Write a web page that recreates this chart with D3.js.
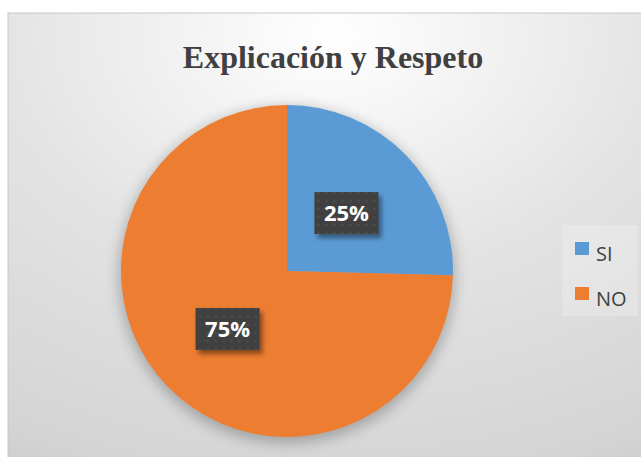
<!DOCTYPE html>
<html>
<head>
<meta charset="utf-8">
<script src="https://cdn.jsdelivr.net/npm/d3@7"></script>
<style>
  body { margin: 0; background: #fff; }
  svg { display: block; }
</style>
</head>
<body>
<div id="chart"></div>
<script>
// chart data
var title = "Explicación y Respeto";
var categories = ["SI", "NO"];
var values = [25.4, 74.6]; // percent
var colors = ["#5B9BD5", "#ED7D31"];

var w = 641, h = 457;
var frame = { x: 8, y: 13, w: 650, h: 460 };
var cx = 287, cy = 271, r = 166;

var svg = d3.select("#chart").append("svg")
    .attr("width", w)
    .attr("height", h);

var defs = svg.append("defs");

// background gradient, light at the top middle
var bg = defs.append("radialGradient")
    .attr("id", "bg")
    .attr("cx", "0.5").attr("cy", "0.05")
    .attr("r", "1.15");
bg.append("stop").attr("offset", "0").attr("stop-color", "#ffffff");
bg.append("stop").attr("offset", "0.45").attr("stop-color", "#e3e3e3");
bg.append("stop").attr("offset", "0.85").attr("stop-color", "#d4d4d4");
bg.append("stop").attr("offset", "1").attr("stop-color", "#c6c6c6");

// soft shadow around the pie
var blur = defs.append("filter").attr("id", "pieShadow")
    .attr("x", "-20%").attr("y", "-20%").attr("width", "140%").attr("height", "140%");
blur.append("feGaussianBlur").attr("stdDeviation", 7);

// shadow under the label boxes
var lblShadow = defs.append("filter").attr("id", "lblShadow")
    .attr("x", "-30%").attr("y", "-30%").attr("width", "160%").attr("height", "160%");
lblShadow.append("feGaussianBlur").attr("in", "SourceAlpha").attr("stdDeviation", 2.5).attr("result", "b");
lblShadow.append("feOffset").attr("in", "b").attr("dx", 3).attr("dy", 4).attr("result", "o");
lblShadow.append("feComponentTransfer").attr("in", "o").attr("result", "s")
  .append("feFuncA").attr("type", "linear").attr("slope", 0.45);
var merge = lblShadow.append("feMerge");
merge.append("feMergeNode").attr("in", "s");
merge.append("feMergeNode").attr("in", "SourceGraphic");

// dotted texture of the label boxes
var pat = defs.append("pattern")
    .attr("id", "dots")
    .attr("width", 8).attr("height", 8)
    .attr("patternUnits", "userSpaceOnUse");
pat.append("rect").attr("width", 8).attr("height", 8).attr("fill", "#3f3f3f");
pat.append("circle").attr("cx", 4).attr("cy", 4).attr("r", 1.6).attr("fill", "#4b4b4b");

// chart area
svg.append("rect")
    .attr("x", frame.x).attr("y", frame.y)
    .attr("width", frame.w).attr("height", frame.h)
    .attr("fill", "url(#bg)")
    .attr("stroke", "#c8c8c8")
    .attr("stroke-width", 1);

// title
svg.append("text")
    .attr("x", 333)
    .attr("y", 68)
    .attr("text-anchor", "middle")
    .attr("font-family", "'Liberation Serif', 'Times New Roman', serif")
    .attr("font-weight", "bold")
    .attr("font-size", 32)
    .attr("fill", "#404040")
    .text(title);

// pie
var data = categories.map(function(c, i) { return { cat: c, value: values[i], color: colors[i] }; });
var pie = d3.pie().sort(null).value(function(d) { return d.value; });
var arc = d3.arc().innerRadius(0).outerRadius(r);
var total = d3.sum(values);

var g = svg.append("g").attr("transform", "translate(" + cx + "," + cy + ")");

g.append("circle")
    .attr("cx", 0).attr("cy", 4).attr("r", r + 2)
    .attr("fill", "#000")
    .attr("opacity", 0.25)
    .attr("filter", "url(#pieShadow)");

var arcs = pie(data);

g.selectAll("path.slice")
    .data(arcs)
  .enter().append("path")
    .attr("class", "slice")
    .attr("d", arc)
    .attr("fill", function(d) { return d.data.color; });

// data labels
var lbl = g.selectAll("g.lbl")
    .data(arcs)
  .enter().append("g")
    .attr("class", "lbl")
    .attr("transform", function(d) {
      var c = arc.centroid(d);
      return "translate(" + c[0] + "," + c[1] + ")";
    });

lbl.append("rect")
    .attr("x", -32).attr("y", -21)
    .attr("width", 64).attr("height", 42)
    .attr("fill", "url(#dots)")
    .attr("filter", "url(#lblShadow)");

lbl.append("text")
    .attr("text-anchor", "middle")
    .attr("y", 8)
    .attr("font-family", "'Open Sans', sans-serif")
    .attr("font-weight", "bold")
    .attr("font-size", 22)
    .attr("fill", "#ffffff")
    .text(function(d) { return Math.round(d.data.value / total * 100) + "%"; });

// legend
var legend = svg.append("g");
legend.append("rect")
    .attr("x", 562).attr("y", 225)
    .attr("width", 76).attr("height", 91)
    .attr("fill", "#ffffff")
    .attr("opacity", 0.22);

var item = legend.selectAll("g.item")
    .data(data)
  .enter().append("g")
    .attr("class", "item")
    .attr("transform", function(d, i) { return "translate(575," + (242 + i * 45) + ")"; });

item.append("rect")
    .attr("width", 14).attr("height", 13)
    .attr("fill", function(d) { return d.color; });

item.append("text")
    .attr("x", 21)
    .attr("y", 19)
    .attr("font-family", "'Open Sans', sans-serif")
    .attr("font-size", 20)
    .attr("fill", "#404040")
    .text(function(d) { return d.cat; });
</script>
</body>
</html>
